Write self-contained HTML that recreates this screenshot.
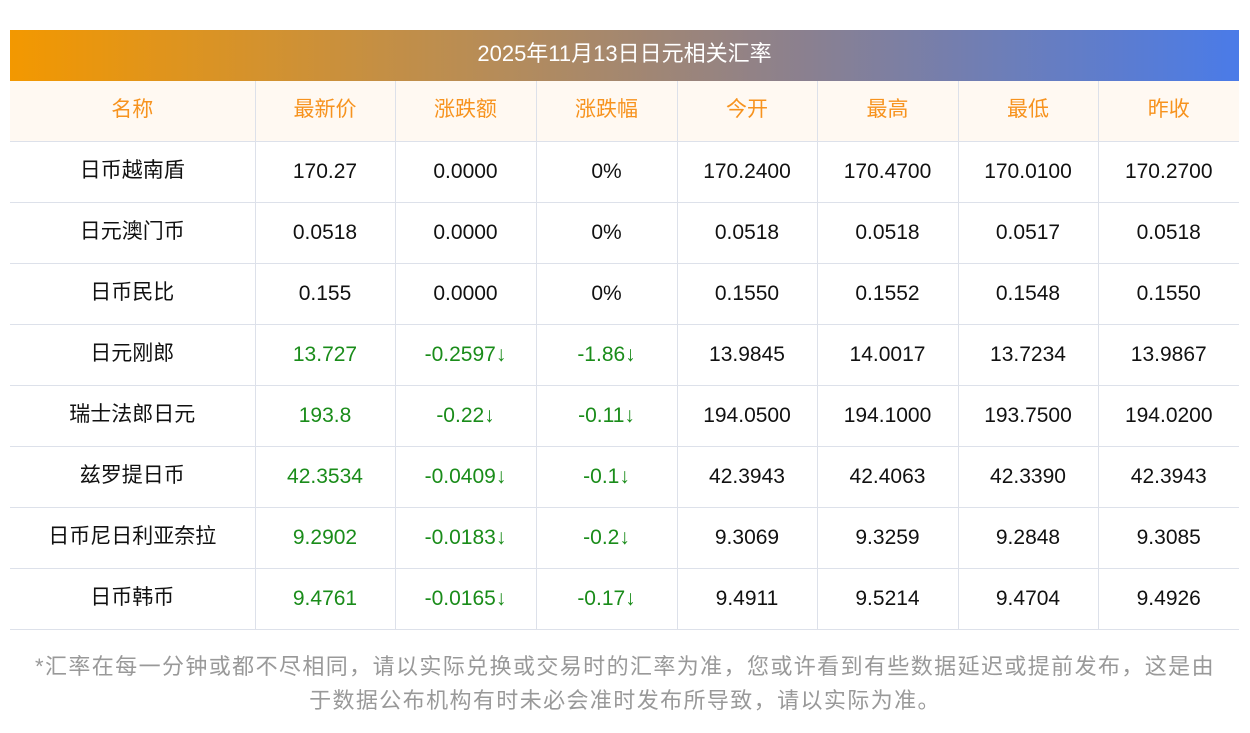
<!DOCTYPE html>
<html><head><meta charset="utf-8"><style>
body{margin:0;width:1250px;height:733px;background:#fff;font-family:"Liberation Sans","Noto Sans CJK SC",sans-serif;position:relative;overflow:hidden}
.title{position:absolute;left:10px;top:30px;width:1229px;height:51px;background:linear-gradient(90deg,#f39800,#b58c5a 40%,#8a8090 65%,#4a7be8);color:#fff;font-size:22px;line-height:47px;text-align:center}
table{position:absolute;left:10px;top:81px;width:1229px;border-collapse:collapse;table-layout:fixed}
td{border:1px solid #dde1ea;height:60px;padding:0;text-align:center;font-size:21px;color:#111}
td.n{padding-bottom:6px;height:54px}
tr.h td{background:#fff9f2;color:#f7931e;padding-bottom:7px;height:53px}
tr:first-child td{border-top:none}
td:first-child{border-left:none}td:last-child{border-right:none}
.g{color:#1a8c1a}
.foot{position:absolute;left:0;top:650px;width:1250px;text-align:center;color:#999;font-size:22px;letter-spacing:1.4px;line-height:34px}
</style></head><body>
<div class="title">2025年11月13日日元相关汇率</div>
<table>
<colgroup><col style="width:245px"><col style="width:140px"><col style="width:141px"><col style="width:141px"><col style="width:140px"><col style="width:141px"><col style="width:140px"><col style="width:141px"></colgroup>
<tr class="h"><td>名称</td><td>最新价</td><td>涨跌额</td><td>涨跌幅</td><td>今开</td><td>最高</td><td>最低</td><td>昨收</td></tr>
<tr><td class="n">日币越南盾</td><td>170.27</td><td>0.0000</td><td>0%</td><td>170.2400</td><td>170.4700</td><td>170.0100</td><td>170.2700</td></tr>
<tr><td class="n">日元澳门币</td><td>0.0518</td><td>0.0000</td><td>0%</td><td>0.0518</td><td>0.0518</td><td>0.0517</td><td>0.0518</td></tr>
<tr><td class="n">日币民比</td><td>0.155</td><td>0.0000</td><td>0%</td><td>0.1550</td><td>0.1552</td><td>0.1548</td><td>0.1550</td></tr>
<tr><td class="n">日元刚郎</td><td class="g">13.727</td><td class="g">-0.2597↓</td><td class="g">-1.86↓</td><td>13.9845</td><td>14.0017</td><td>13.7234</td><td>13.9867</td></tr>
<tr><td class="n">瑞士法郎日元</td><td class="g">193.8</td><td class="g">-0.22↓</td><td class="g">-0.11↓</td><td>194.0500</td><td>194.1000</td><td>193.7500</td><td>194.0200</td></tr>
<tr><td class="n">兹罗提日币</td><td class="g">42.3534</td><td class="g">-0.0409↓</td><td class="g">-0.1↓</td><td>42.3943</td><td>42.4063</td><td>42.3390</td><td>42.3943</td></tr>
<tr><td class="n">日币尼日利亚奈拉</td><td class="g">9.2902</td><td class="g">-0.0183↓</td><td class="g">-0.2↓</td><td>9.3069</td><td>9.3259</td><td>9.2848</td><td>9.3085</td></tr>
<tr><td class="n">日币韩币</td><td class="g">9.4761</td><td class="g">-0.0165↓</td><td class="g">-0.17↓</td><td>9.4911</td><td>9.5214</td><td>9.4704</td><td>9.4926</td></tr>
</table>
<div class="foot">*汇率在每一分钟或都不尽相同，请以实际兑换或交易时的汇率为准，您或许看到有些数据延迟或提前发布，这是由<br>于数据公布机构有时未必会准时发布所导致，请以实际为准。</div>
</body></html>
